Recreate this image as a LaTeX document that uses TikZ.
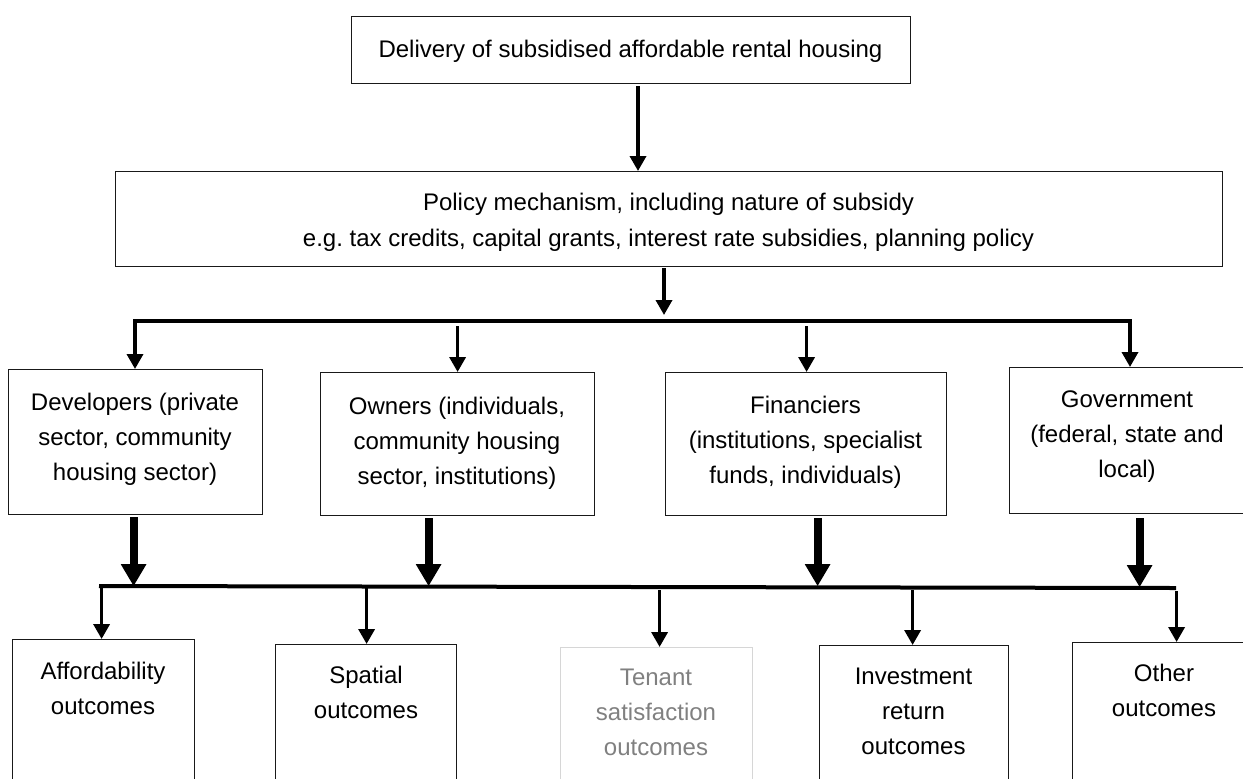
\documentclass[tikz,border=0pt]{standalone}
\usepackage{fontspec}
\setmainfont{Liberation Sans}
\usetikzlibrary{arrows.meta,calc}
\frenchspacing
\begin{document}
\begin{tikzpicture}[x=0.5pt,y=-0.5pt,
  box/.style={draw=black!90, line width=0.6pt, inner sep=0pt, anchor=north west},
  softbox/.style={box, draw=black!16},
  lbl/.style={inner sep=0pt, align=center, anchor=north,
    font=\fontsize{12pt}{17.5pt}\selectfont},
  thinarrow/.style={line width=1.75pt, -{Triangle[width=8pt,length=7.5pt]}},
  thickarrow/.style={line width=4pt, -{Triangle[width=12pt,length=11pt]}},
  bar/.style={line width=2pt, line cap=rect}
]
\useasboundingbox (0,0) rectangle (1243,778);

% ---- boxes ----
\node[box, minimum width=279.5pt, minimum height=33.5pt] (top) at (351,16) {};
\node[box, minimum width=553.5pt, minimum height=47.5pt] (policy) at (115,171) {};
\node[box, minimum width=127pt, minimum height=72.5pt] (dev) at (8,369) {};
\node[box, minimum width=137pt, minimum height=71.5pt] (own) at (320,372) {};
\node[box, minimum width=140.5pt, minimum height=71.5pt] (fin) at (665,372) {};
\node[box, minimum width=118pt, minimum height=73pt] (gov) at (1009,367) {};
\node[box, minimum width=91pt, minimum height=85pt] (aff) at (12,639) {};
\node[box, minimum width=90.5pt, minimum height=85pt] (spa) at (275,644) {};
\node[softbox, minimum width=96pt, minimum height=85pt] (ten) at (560,647) {};
\node[box, minimum width=94.5pt, minimum height=85pt] (inv) at (819,645) {};
\node[box, minimum width=92pt, minimum height=85pt] (oth) at (1072,642) {};

% ---- texts ----
\node[lbl] (top-t) at (630.5,39.5) {Delivery of subsidised affordable rental housing};
\node[lbl, font=\fontsize{12pt}{18pt}\selectfont] (policy-t) at (668.5,193)
  {Policy mechanism, including nature of subsidy\\
   e.g. tax credits, capital grants, interest rate subsidies, planning policy};
\node[lbl] (dev-t) at (135,392.7) {Developers (private\\sector, community\\housing sector)};
\node[lbl] (own-t) at (457,396.7) {Owners (individuals,\\community housing\\sector, institutions)};
\node[lbl] (fin-t) at (805.5,396) {Financiers\\(institutions, specialist\\funds, individuals)};
\node[lbl] (gov-t) at (1127,390) {Government\\(federal, state and\\local)};
\node[lbl] (aff-t) at (103,662) {Affordability\\outcomes};
\node[lbl] (spa-t) at (366,666) {Spatial\\outcomes};
\node[lbl, text=black!50] (ten-t) at (656,669) {Tenant\\satisfaction\\outcomes};
\node[lbl] (inv-t) at (913.5,668) {Investment\\return\\outcomes};
\node[lbl] (oth-t) at (1164,664) {Other\\outcomes};

% ---- delivery to policy ----
\coordinate (a1) at (638,0);
\draw[thinarrow] ($(top.south -| a1)+(0,2)$) -- (policy.north -| a1);

% ---- policy to the actors ----
\coordinate (hub) at (664,315);
\draw[thinarrow] ($(policy.south -| hub)+(0,1)$) -- (hub);
\coordinate (b1l) at (135,321);
\coordinate (b1r) at (1130,321);
\draw[bar] (b1l) -- (b1r);
\draw[thinarrow] (b1l) -- (b1l |- dev.north);
\draw[thinarrow] (b1r) -- (b1r |- gov.north);
\draw[thinarrow] ($(own.north)+(0,-46)$) -- (own.north);
\draw[thinarrow] ($(fin.north)+(0.5,-46)$) -- ($(fin.north)+(0.5,0)$);

% ---- actors to the outcome bar ----
\coordinate (b2l) at (99,586);
\coordinate (b2r) at (1176,588);
\draw[bar, line cap=butt] (b2l) -- (b2r);
\draw[thickarrow] ($(dev.south)+(-2,2)$) -- ($(dev.south)+(-2,71)$);
\draw[thickarrow] ($(own.south)+(-29,2)$) -- ($(own.south)+(-29,70)$);
\draw[thickarrow] ($(fin.south)+(11.5,2)$) -- ($(fin.south)+(11.5,70)$);
\draw[thickarrow] ($(gov.south)+(12,4)$) -- ($(gov.south)+(12,73)$);

% ---- outcome bar to the outcomes ----
\draw[thinarrow] ($(aff.north)+(-2,-53)$) -- ($(aff.north)+(-2,0)$);
\draw[thinarrow] ($(spa.north)+(0.5,-56)$) -- ($(spa.north)+(0.5,0)$);
\draw[thinarrow] ($(ten.north)+(3,-57)$) -- ($(ten.north)+(3,0)$);
\draw[thinarrow] ($(inv.north)+(-1.5,-55)$) -- ($(inv.north)+(-1.5,0)$);
\draw[thinarrow] ($(oth.north)+(12,-51)$) -- ($(oth.north)+(12,0)$);
\end{tikzpicture}
\end{document}
